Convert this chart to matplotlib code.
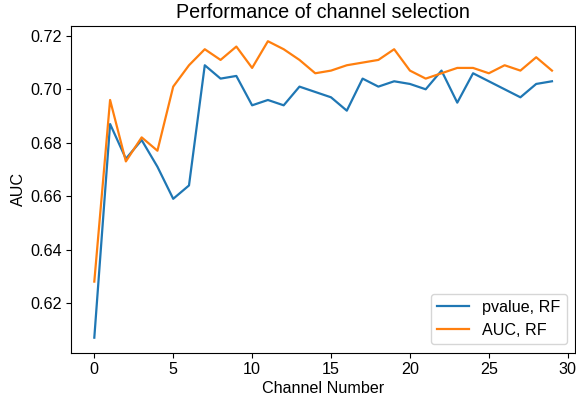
import matplotlib
matplotlib.use("Agg")
import matplotlib.pyplot as plt

plt.rcParams['font.family'] = ['Liberation Sans', 'DejaVu Sans']
plt.rcParams['font.size'] = 11.6

channels = list(range(30))
pvalue_rf = [0.607, 0.687, 0.674, 0.681, 0.671, 0.659, 0.664, 0.709, 0.704, 0.705,
             0.694, 0.696, 0.694, 0.701, 0.699, 0.697, 0.692, 0.704, 0.701, 0.703,
             0.702, 0.700, 0.707, 0.695, 0.706, 0.703, 0.700, 0.697, 0.702, 0.703]
auc_rf = [0.628, 0.696, 0.673, 0.682, 0.677, 0.701, 0.709, 0.715, 0.711, 0.716,
          0.708, 0.718, 0.715, 0.711, 0.706, 0.707, 0.709, 0.710, 0.711, 0.715,
          0.707, 0.704, 0.706, 0.708, 0.708, 0.706, 0.709, 0.707, 0.712, 0.707]

fig = plt.figure(figsize=(5.76, 4.03), dpi=100)
ax = fig.add_axes([0.124, 0.1253, 0.874, 0.8092])
ax.plot(channels, pvalue_rf, label='pvalue, RF', color='#1f77b4', linewidth=1.6)
ax.plot(channels, auc_rf, label='AUC, RF', color='#ff7f0e', linewidth=1.6)
ax.set_title('Performance of channel selection', fontsize=14.2)
ax.set_xlabel('Channel Number', labelpad=3)
ax.set_ylabel('AUC', labelpad=3)
ax.legend(loc='lower right')
fig.savefig('out.png', dpi=100)
